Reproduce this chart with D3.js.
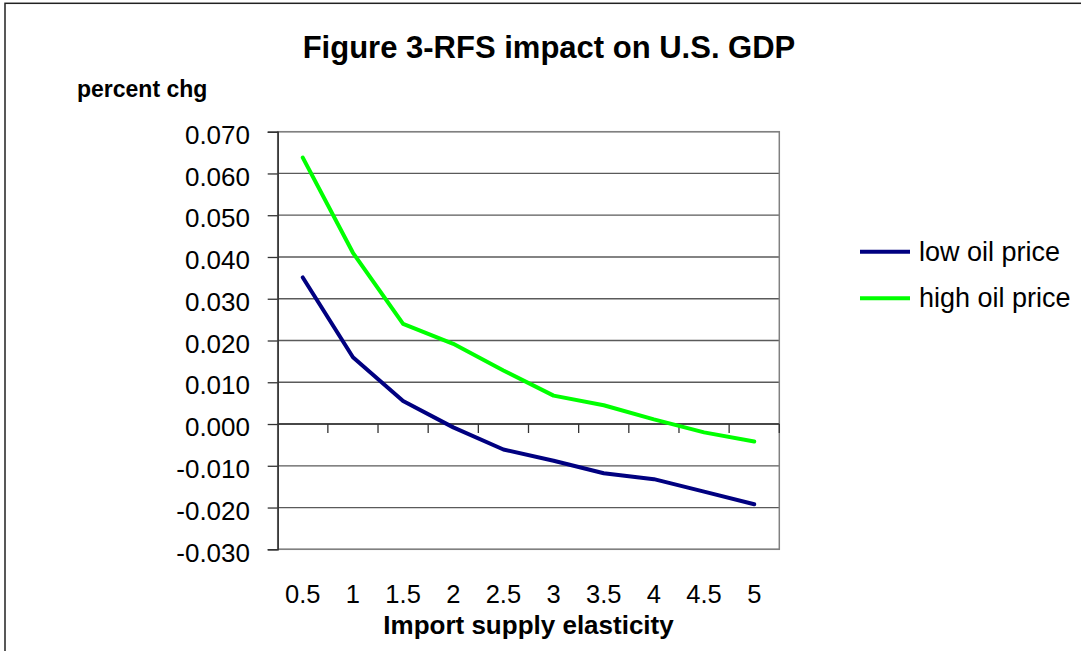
<!DOCTYPE html>
<html>
<head>
<meta charset="utf-8">
<script src="https://cdn.jsdelivr.net/npm/d3@7"></script>
<style>
  body { margin: 0; background: #fff; }
  svg { display: block; font-family: "Liberation Sans", Arial, sans-serif; }
  .tick text { fill: #000; }
</style>
</head>
<body>
<div id="chart"></div>
<script>
// chart values
const elasticity = ["0.5", "1", "1.5", "2", "2.5", "3", "3.5", "4", "4.5", "5"];
const lowOilPrice = [0.0351, 0.0160, 0.0055, -0.0008, -0.0061, -0.0088, -0.0118, -0.0132, -0.0162, -0.0192];
const highOilPrice = [0.0638, 0.0410, 0.0240, 0.0192, 0.0128, 0.0068, 0.0045, 0.0011, -0.0020, -0.0042];
const yTicks = [-0.03, -0.02, -0.01, 0, 0.01, 0.02, 0.03, 0.04, 0.05, 0.06, 0.07];
const yTickLabels = ["-0.030", "-0.020", "-0.010", "0.000", "0.010", "0.020", "0.030", "0.040", "0.050", "0.060", "0.070"];
const seriesNames = ["low oil price", "high oil price"];
const seriesColors = ["#000080", "#00ff00"];

const W = 1081, H = 651;
const plot = { left: 277.7, right: 779.3, top: 131.7, bottom: 549.3 };

const svg = d3.select("#chart").append("svg")
  .attr("width", W)
  .attr("height", H);

// outer chart border (right and bottom edges fall outside the picture)
svg.append("rect")
  .attr("x", 5).attr("y", 3.3)
  .attr("width", 1100).attr("height", 700)
  .attr("fill", "#fff")
  .attr("stroke", "#222")
  .attr("stroke-width", 1.5);

const x = d3.scaleBand()
  .domain(elasticity)
  .range([plot.left, plot.right])
  .padding(0);

const y = d3.scaleLinear()
  .domain([-0.03, 0.07])
  .range([plot.bottom, plot.top]);

// gridlines
svg.append("g")
  .selectAll("line")
  .data(yTicks)
  .enter().append("line")
  .attr("x1", plot.left).attr("x2", plot.right)
  .attr("y1", d => y(d)).attr("y2", d => y(d))
  .attr("stroke", "#5a5a5a")
  .attr("stroke-width", 1.3);

// plot area border
svg.append("rect")
  .attr("x", plot.left).attr("y", plot.top)
  .attr("width", plot.right - plot.left)
  .attr("height", plot.bottom - plot.top)
  .attr("fill", "none")
  .attr("stroke", "#808080")
  .attr("stroke-width", 1.5);

// y axis
const yAxis = d3.axisLeft(y)
  .tickValues(yTicks)
  .tickFormat((d, i) => yTickLabels[i])
  .tickSize(10)
  .tickPadding(17.7);

const yg = svg.append("g")
  .attr("transform", `translate(${plot.left},0)`)
  .call(yAxis);
yg.select(".domain").attr("stroke", "#333").attr("stroke-width", 1.5);
yg.selectAll(".tick line").attr("stroke", "#333").attr("stroke-width", 1.3);
yg.selectAll(".tick text")
  .style("font-size", "26px")
  .attr("dy", "0.45em");

// x axis sits on the zero line, ticks at category boundaries
const xg = svg.append("g")
  .attr("transform", `translate(0,${y(0)})`);
xg.append("line")
  .attr("x1", plot.left).attr("x2", plot.right)
  .attr("stroke", "#333").attr("stroke-width", 1.5);
xg.selectAll(".xtick")
  .data(elasticity)
  .enter().append("line")
  .attr("class", "xtick")
  .attr("x1", d => x(d) + x.bandwidth()).attr("x2", d => x(d) + x.bandwidth())
  .attr("y1", 0).attr("y2", 9)
  .attr("stroke", "#333").attr("stroke-width", 1.3);

// x labels below the plot
svg.append("g")
  .selectAll("text")
  .data(elasticity)
  .enter().append("text")
  .attr("x", d => x(d) + x.bandwidth() / 2)
  .attr("y", 603)
  .attr("text-anchor", "middle")
  .style("font-size", "25.5px")
  .text(d => d);

// lines
const line = d3.line()
  .x((d, i) => x(elasticity[i]) + x.bandwidth() / 2)
  .y(d => y(d));

[lowOilPrice, highOilPrice].forEach((s, k) => {
  svg.append("path")
    .datum(s)
    .attr("d", line)
    .attr("fill", "none")
    .attr("stroke", seriesColors[k])
    .attr("stroke-width", 4)
    .attr("stroke-linejoin", "round")
    .attr("stroke-linecap", "round");
});

// titles
svg.append("text")
  .attr("x", 549).attr("y", 58)
  .attr("text-anchor", "middle")
  .style("font-size", "31px").style("font-weight", "bold")
  .text("Figure 3-RFS impact on U.S. GDP");

svg.append("text")
  .attr("x", 77).attr("y", 97)
  .style("font-size", "23px").style("font-weight", "bold")
  .text("percent chg");

svg.append("text")
  .attr("x", (plot.left + plot.right) / 2).attr("y", 634)
  .attr("text-anchor", "middle")
  .style("font-size", "26px").style("font-weight", "bold")
  .text("Import supply elasticity");

// legend
const legend = svg.append("g");
seriesNames.forEach((name, k) => {
  const ly = 251.7 + k * 46.6;
  legend.append("line")
    .attr("x1", 860).attr("x2", 910)
    .attr("y1", ly).attr("y2", ly)
    .attr("stroke", seriesColors[k])
    .attr("stroke-width", 4);
  legend.append("text")
    .attr("x", 919).attr("y", ly + 9)
    .style("font-size", "27px")
    .text(name);
});
</script>
</body>
</html>
